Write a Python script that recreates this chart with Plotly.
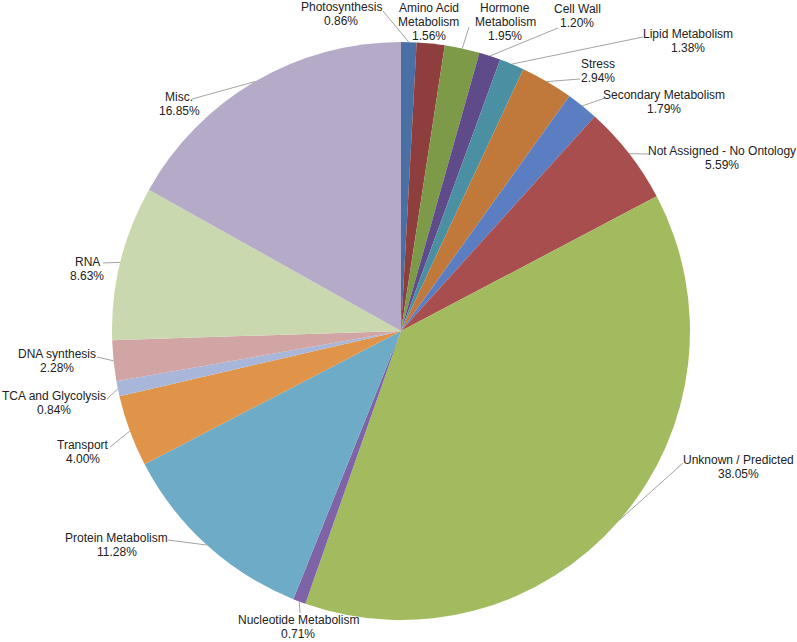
import math
import plotly.graph_objects as go

# ---- data ----
categories = [
    "Photosynthesis", "Amino Acid Metabolism", "Hormone Metabolism", "Cell Wall",
    "Lipid Metabolism", "Stress", "Secondary Metabolism", "Not Assigned - No Ontology",
    "Unknown / Predicted", "Nucleotide Metabolism", "Protein Metabolism", "Transport",
    "TCA and Glycolysis", "DNA synthesis", "RNA", "Misc.",
]
percent = [0.86, 1.56, 1.95, 1.20, 1.38, 2.94, 1.79, 5.59,
           38.05, 0.71, 11.28, 4.00, 0.84, 2.28, 8.63, 16.85]
label_lines = [
    ["Photosynthesis"], ["Amino Acid", "Metabolism"], ["Hormone", "Metabolism"], ["Cell Wall"],
    ["Lipid Metabolism"], ["Stress"], ["Secondary Metabolism"], ["Not Assigned - No Ontology"],
    ["Unknown / Predicted"], ["Nucleotide Metabolism"], ["Protein Metabolism"], ["Transport"],
    ["TCA and Glycolysis"], ["DNA synthesis"], ["RNA"], ["Misc."],
]

# ---- styles ----
colors = ["#4A6FA5", "#8E3E3C", "#7D9A48", "#5F4A8A", "#4B8FA3", "#C0793A",
          "#5B7EC3", "#A94E4E", "#A2BB5E", "#7E64A6", "#6EABC6", "#E09449",
          "#A8B7D9", "#D1A5A4", "#CAD8AF", "#B5ABC8"]

W, H = 797, 642
CX, CY, R = 401, 331, 289
LINE_H = 14

# label block centres (px) and leader start points (px)
label_pos = [(341, 14), (429, 22), (505, 22), (577, 16), (688, 41), (598, 71),
             (664, 102), (722, 158), (738, 467), (298, 627), (117, 545), (83, 452),
             (54, 403), (57, 361), (87, 269), (179, 104)]
leader_start = [(383, 11), None, (469, 27), (558, 28), (643, 37), (580, 79),
                (605, 98), (649, 154), (683, 463), (300, 613), (168, 540), (110, 447),
                (107, 399), (97, 357), (103, 263), (192, 99)]

fig = go.Figure(go.Pie(
    labels=categories, values=percent, sort=False, direction="clockwise",
    rotation=0, marker=dict(colors=colors, line=dict(width=0)),
    textinfo="none", hoverinfo="label+percent",
    domain=dict(x=[(CX - R) / W, (CX + R) / W], y=[(H - CY - R) / H, (H - CY + R) / H]),
))

def px2paper(x, y):
    return x / W, 1 - y / H

total = sum(percent)
cum = 0.0
shapes, annotations = [], []
for i, v in enumerate(percent):
    mid = (cum + v / 2) / total
    cum += v
    ang = 2 * math.pi * mid
    ex, ey = CX + R * math.sin(ang), CY - R * math.cos(ang)
    lx, ly = label_pos[i]
    lines = label_lines[i] + [f"{v:.2f}%"]
    n = len(lines)
    for j, t in enumerate(lines):
        yy = ly + (j - (n - 1) / 2) * LINE_H
        ax_, ay_ = px2paper(lx, yy)
        annotations.append(dict(
            x=ax_, y=ay_, xref="paper", yref="paper", showarrow=False,
            text=t, xanchor="center", yanchor="middle",
            font=dict(family="Liberation Sans, Arial", size=12, color="#222222"),
        ))
    if leader_start[i] is not None:
        sx, sy = px2paper(*leader_start[i])
        tx, ty = px2paper(ex, ey)
        shapes.append(dict(type="line", xref="paper", yref="paper",
                           x0=sx, y0=sy, x1=tx, y1=ty,
                           line=dict(color="#8C8C8C", width=0.8)))

fig.update_layout(
    width=W, height=H, margin=dict(l=0, r=0, t=0, b=0),
    showlegend=False, paper_bgcolor="white", plot_bgcolor="white",
    shapes=shapes, annotations=annotations,
)
fig.write_html("out.html", config={"displayModeBar": False},
               post_script="document.body.style.margin='0';document.body.style.overflow='hidden';")
